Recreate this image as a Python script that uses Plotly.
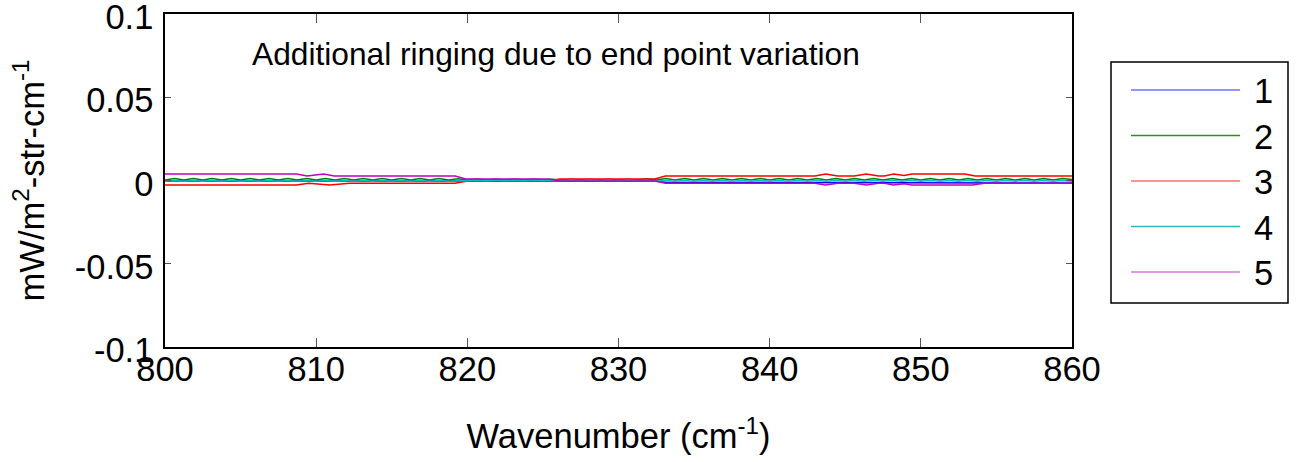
import numpy as np
import plotly.graph_objects as go

# ---------------- data ----------------
series_names = ["1", "2", "3", "4", "5"]
series_colors = ["#0000FF", "#008000", "#FF0000", "#00BFBF", "#BF00BF"]
legend_colors = ["#7070FF", "#1E961E", "#FF7070", "#30B8B8", "#D878D8"]

# series 1 (blue) - mostly hidden under the others
s1_x = [800, 832.5, 833.2, 852.5, 853.6, 860]
s1_y = [-0.0003, -0.0003, -0.0012, -0.0012, -0.0015, -0.0015]

# wave series 2 and 4 sampled on a common grid (half-period steps)
wave_x = np.round(np.arange(800, 860.001, 0.625), 3)
s2_y = [
    0.0003, 0.0012, 0.0003, 0.0012, 0.0003, 0.0012, 0.0003, 0.0012,
    0.0003, 0.0012, 0.0003, 0.0012, 0.0003, 0.0012, 0.0003, 0.0012,
    0.0003, 0.0012, 0.0003, 0.0012, 0.0003, 0.0012, 0.0003, 0.0012,
    0.0003, 0.0012, 0.0003, 0.0012, 0.0003, 0.0012, 0.0003, 0.0010,
    0.0003, 0.0008, 0.0003, 0.0008, 0.0003, 0.0008, 0.0003, 0.0008,
    0.0003, 0.0008, 0.0003, 0.0008, 0.0003, 0.0008, 0.0003, 0.0008,
    0.0003, 0.0008, 0.0003, 0.0010, 0.0003, 0.0012, 0.0003, 0.0012,
    0.0003, 0.0012, 0.0003, 0.0012, 0.0003, 0.0012, 0.0003, 0.0012,
    0.0003, 0.0012, 0.0003, 0.0012, 0.0003, 0.0012, 0.0003, 0.0012,
    0.0003, 0.0012, 0.0003, 0.0012, 0.0003, 0.0012, 0.0003, 0.0012,
    0.0003, 0.0012, 0.0003, 0.0012, 0.0003, 0.0012, 0.0003, 0.0012,
    0.0003, 0.0012, 0.0003, 0.0012, 0.0003, 0.0012, 0.0003, 0.0012,
    0.0006,
]
s4_y = [
    -0.0004, 0.0000, -0.0004, 0.0000, -0.0004, 0.0000, -0.0004, 0.0000,
    -0.0004, 0.0000, -0.0004, 0.0000, -0.0004, 0.0000, -0.0004, 0.0000,
    -0.0004, 0.0000, -0.0004, 0.0000, -0.0004, 0.0000, -0.0004, 0.0000,
    -0.0004, 0.0000, -0.0004, 0.0000, -0.0004, 0.0000, -0.0004, 0.0000,
    -0.0002, 0.0001, -0.0002, 0.0001, -0.0002, 0.0001, -0.0002, 0.0001,
    -0.0002, 0.0001, -0.0002, 0.0001, -0.0002, 0.0001, -0.0002, 0.0001,
    -0.0002, 0.0001, -0.0002, 0.0000, -0.0004, 0.0000, -0.0004, 0.0000,
    -0.0004, 0.0000, -0.0004, 0.0000, -0.0004, 0.0000, -0.0004, 0.0000,
    -0.0004, 0.0000, -0.0004, 0.0000, -0.0004, 0.0000, -0.0004, 0.0000,
    -0.0004, 0.0000, -0.0004, 0.0000, -0.0004, 0.0000, -0.0004, 0.0000,
    -0.0004, 0.0000, -0.0004, 0.0000, -0.0004, 0.0000, -0.0004, 0.0000,
    -0.0004, 0.0000, -0.0004, 0.0000, -0.0004, 0.0000, -0.0004, 0.0000,
    -0.0004,
]

# series 3 (red) and 5 (magenta) - stepped, mirror images
s3_x = [800, 808.7, 809.5, 810.9, 812.2, 819.2, 819.9, 825.4, 826.1, 832.4,
        833.1, 843.0, 843.7, 844.5, 845.6, 846.4, 847.2, 847.6, 848.2, 848.9,
        849.4, 852.9, 853.6, 860]
s3_y = [-0.0027, -0.0027, -0.0016, -0.0027, -0.0016, -0.0016, -0.0004,
        -0.0004, 0.0009, 0.0009, 0.0027, 0.0027, 0.0039, 0.0027, 0.0027,
        0.0039, 0.0027, 0.0027, 0.0039, 0.0030, 0.0039, 0.0039, 0.0027, 0.0027]

s5_x = [800, 808.7, 809.4, 810.5, 811.2, 819.2, 819.9, 825.4, 826.1, 832.4,
        833.1, 843.0, 843.7, 844.5, 845.6, 846.4, 847.2, 847.6, 848.2, 848.9,
        849.4, 853.4, 854.2, 860]
s5_y = [0.0039, 0.0039, 0.0027, 0.0039, 0.0027, 0.0027, 0.0009, 0.0009,
        -0.0003, -0.0003, -0.0016, -0.0016, -0.0027, -0.0016, -0.0016,
        -0.0027, -0.0016, -0.0016, -0.0027, -0.0019, -0.0027, -0.0027,
        -0.0016, -0.0016]

x_ticks = [800, 810, 820, 830, 840, 850, 860]
y_ticks = [-0.1, -0.05, 0, 0.05, 0.1]
y_tick_labels = ["-0.1", "-0.05", "0", "0.05", "0.1"]

annotation_text = "Additional ringing due to end point variation"

# ---------------- figure ----------------
FONT = "Liberation Sans, Arial, Helvetica, sans-serif"
FS = 34.5
W, H = 1296, 462
ML, MR, MT, MB = 165, 224, 14, 115
plot_w = W - ML - MR
plot_h = H - MT - MB

xs = [s1_x, wave_x, s3_x, wave_x, s5_x]
ys = [s1_y, s2_y, s3_y, s4_y, s5_y]

fig = go.Figure()
for name, color, x, y in zip(series_names, series_colors, xs, ys):
    fig.add_trace(go.Scatter(x=x, y=y, mode="lines", name=name,
                             line=dict(color=color, width=1.5),
                             showlegend=False, hoverinfo="skip"))

fig.update_layout(
    width=W, height=H,
    margin=dict(l=ML, r=MR, t=MT, b=MB, autoexpand=False),
    paper_bgcolor="white", plot_bgcolor="white",
    font=dict(family=FONT, size=FS, color="black"),
    showlegend=False,
)
fig.update_xaxes(
    range=[800, 860], tickvals=x_ticks, ticks="inside", ticklen=9,
    tickcolor="#555555", tickwidth=1, showline=True, linecolor="black",
    linewidth=1.5, mirror="ticks", showgrid=False, zeroline=False,
    tickfont=dict(size=FS), ticklabelstandoff=-9, ticklabeloverflow="allow",
    automargin=False,
    title=dict(text="Wavenumber (cm<sup>-1</sup>)", font=dict(size=FS),
               standoff=37),
)
fig.update_yaxes(
    range=[-0.1, 0.1], tickvals=y_ticks, ticktext=y_tick_labels,
    ticks="inside", ticklen=6, tickcolor="#555555", tickwidth=1,
    showline=True, linecolor="black", linewidth=1.5, mirror="ticks",
    showgrid=False, zeroline=False, tickfont=dict(size=FS),
    ticklabelstandoff=3, ticklabelshift=3, ticklabeloverflow="allow",
    automargin=False,
    title=dict(text="mW/m<sup>2</sup>-str-cm<sup>-1</sup>",
               font=dict(size=FS), standoff=20),
)

fig.add_annotation(x=805.6, y=0.076, xref="x", yref="y", text=annotation_text,
                   showarrow=False, xanchor="left", yanchor="middle",
                   font=dict(size=31.7))

# ---- manual legend (paper coordinates from pixel layout) ----
def px_x(p):
    return (p - ML) / plot_w

def px_y(p):
    return (H - MB - p) / plot_h

leg_left, leg_right, leg_top, leg_bottom = 1111, 1288, 62, 303
line_x0, line_x1, text_x = 1131, 1240, 1252
row_first, row_step = 90, 45.5

fig.add_shape(type="rect", xref="paper", yref="paper",
              x0=px_x(leg_left), x1=px_x(leg_right),
              y0=px_y(leg_bottom), y1=px_y(leg_top),
              line=dict(color="black", width=1.5), fillcolor="white")
for i, (name, color) in enumerate(zip(series_names, legend_colors)):
    yy = row_first + i * row_step
    fig.add_shape(type="line", xref="paper", yref="paper",
                  x0=px_x(line_x0), x1=px_x(line_x1),
                  y0=px_y(yy), y1=px_y(yy),
                  line=dict(color=color, width=1.5))
    fig.add_annotation(x=px_x(text_x), y=px_y(yy + 1), xref="paper",
                       yref="paper", text=name, showarrow=False,
                       xanchor="left", yanchor="middle",
                       font=dict(size=FS))

fig.write_html("out.html",
               config={"displayModeBar": False},
               post_script="document.body.style.margin='0';"
                           "document.body.style.overflow='hidden';")
